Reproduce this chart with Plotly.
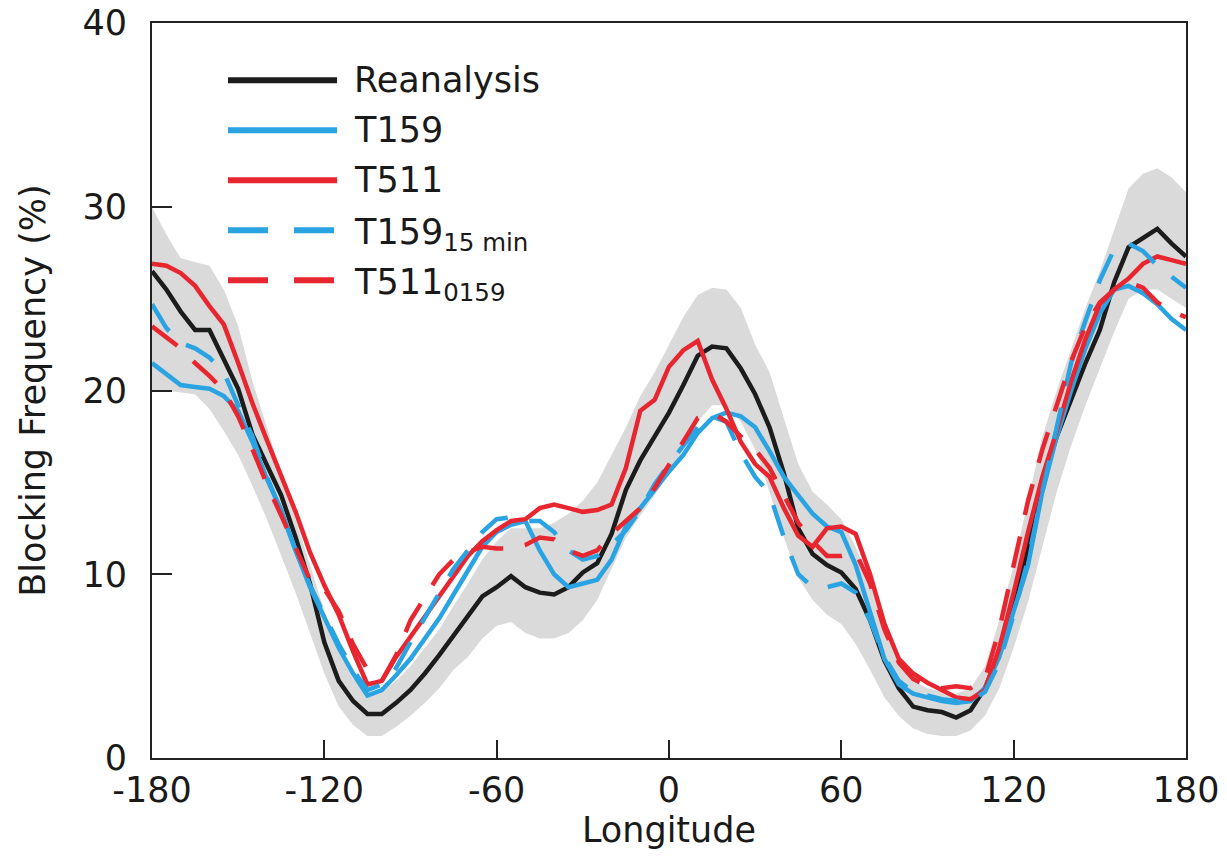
import plotly.graph_objects as go

lon = list(range(-180, 181, 5))

band_upper = [30.0, 28.5, 27.2, 27.0, 26.8, 25.5, 23.5, 20.5, 18.0, 15.5, 13.0, 10.5, 8.0, 5.8, 4.3, 3.6,
              3.6, 4.2, 5.0, 6.0, 7.0, 8.3, 9.5, 10.8, 11.8, 12.5, 12.5, 12.5, 12.8, 13.3, 14.0, 15.0,
              16.5, 18.0, 19.7, 21.0, 22.5, 24.0, 25.2, 25.6, 25.5, 24.5, 22.5, 21.0, 18.5, 16.0, 14.5, 13.8,
              13.0, 11.5, 9.5, 7.5, 5.5, 4.2, 3.8, 3.6, 3.5, 3.8, 5.0, 7.5, 10.5, 14.0, 17.5, 20.0,
              22.3, 24.5, 26.5, 28.8, 31.0, 31.8, 32.1, 31.6, 30.8]
band_lower = [20.0, 20.0, 19.9, 19.8, 19.0, 17.8, 16.5, 14.8, 13.0, 11.0, 9.0, 6.8, 4.6, 2.8, 1.8, 1.2,
              1.2, 1.7, 2.3, 3.0, 3.8, 4.8, 5.5, 6.5, 7.2, 7.4, 6.8, 6.5, 6.5, 6.8, 7.5, 8.6,
              10.3, 12.0, 13.2, 14.3, 15.5, 16.8, 18.3, 19.2, 19.2, 18.3, 16.8, 14.5, 12.0, 9.8, 8.6, 7.8,
              7.3, 6.2, 4.8, 3.3, 2.3, 1.6, 1.3, 1.2, 1.2, 1.5, 2.3, 3.8, 6.0, 8.5, 11.5, 14.5,
              17.0, 19.2, 21.2, 23.2, 25.0, 25.5, 25.5, 25.0, 24.5]

reanalysis = [26.5, 25.5, 24.3, 23.3, 23.3, 21.7, 20.1, 17.6, 16.0, 14.3, 12.0, 9.5, 6.3, 4.2, 3.1, 2.4,
              2.4, 3.0, 3.7, 4.6, 5.6, 6.7, 7.8, 8.8, 9.3, 9.9, 9.3, 9.0, 8.9, 9.3, 10.1, 10.6,
              12.2, 14.6, 16.2, 17.5, 18.8, 20.3, 21.9, 22.4, 22.3, 21.2, 19.8, 18.0, 15.5, 12.5, 11.1, 10.5,
              10.1, 9.2, 7.5, 5.3, 3.8, 2.8, 2.6, 2.5, 2.2, 2.6, 3.8, 5.7, 8.2, 11.5, 15.0, 17.5,
              19.5, 21.5, 23.3, 25.9, 27.8, 28.3, 28.8, 28.0, 27.3]

t159 = [21.5, 20.9, 20.3, 20.2, 20.1, 19.7, 18.9, 17.2, 15.2, 13.5, 11.3, 9.3, 7.6, 6.0, 4.6, 3.4,
        3.7, 4.5, 5.4, 6.5, 7.6, 8.9, 10.2, 11.5, 12.3, 12.7, 12.9, 11.3, 10.0, 9.3, 9.5, 9.7,
        10.8, 12.6, 13.6, 14.6, 15.6, 16.5, 17.7, 18.5, 18.8, 18.6, 18.0, 16.7, 15.3, 14.3, 13.3, 12.6,
        12.3, 10.5, 8.0, 5.4, 4.0, 3.5, 3.3, 3.1, 3.0, 3.1, 3.8, 5.5, 8.0, 10.5, 14.5, 17.5,
        20.0, 22.3, 24.2, 25.5, 25.7, 25.3, 24.7, 23.9, 23.3]

t511 = [26.9, 26.8, 26.4, 25.7, 24.6, 23.6, 21.5, 19.3, 17.3, 15.3, 13.4, 11.2, 9.4, 7.8, 5.8, 4.0,
        4.2, 5.5, 6.6, 7.7, 8.8, 10.0, 11.0, 11.8, 12.4, 12.9, 13.0, 13.6, 13.8, 13.6, 13.4, 13.5,
        13.8, 15.8, 18.9, 19.5, 21.3, 22.2, 22.7, 20.6, 19.0, 17.2, 16.0, 15.3, 13.6, 12.1, 11.5, 12.5,
        12.6, 12.2, 10.0, 7.3, 5.4, 4.6, 4.1, 3.7, 3.3, 3.2, 3.7, 6.0, 9.0, 12.3, 15.3, 17.8,
        20.5, 22.8, 24.7, 25.5, 26.1, 26.9, 27.3, 27.1, 26.9]

t159_15min = [24.7, 23.4, 22.6, 22.3, 21.8, 21.0, 19.2, 17.5, 15.3, 13.4, 11.3, 9.4, 7.8, 6.2, 4.8, 3.7,
              4.0, 4.9, 6.3, 7.6, 9.0, 10.3, 11.3, 12.3, 13.0, 13.1, 12.9, 12.9, 12.3, 11.3, 10.8, 11.0,
              11.6, 12.4, 13.5, 14.9, 16.0, 17.0, 18.0, 18.6, 18.3, 16.6, 15.3, 14.4, 12.0, 10.0, 9.3, 9.3,
              9.5, 9.0, 7.5, 5.5, 4.2, 3.6, 3.4, 3.2, 3.1, 3.1, 3.6, 5.2, 7.8, 10.8, 14.5, 18.0,
              21.5, 23.8, 26.0, 27.7, 28.0, 27.6, 26.8, 26.2, 25.6]

t511_0159 = [23.5, 22.9, 22.3, 21.5, 20.8, 20.0, 18.6, 16.8, 14.9, 13.2, 11.5, 9.7, 9.2, 8.0, 6.2, 4.8,
             4.2, 5.6, 7.5, 8.8, 10.0, 10.8, 11.2, 11.5, 11.4, 11.4, 11.6, 12.0, 11.9, 11.3, 11.0, 11.3,
             12.2, 12.9, 13.6, 14.7, 16.0, 17.3, 18.5, 18.8, 18.3, 17.5, 16.8, 15.8, 14.3, 12.8, 11.8, 11.0,
             11.0, 11.2, 9.5, 7.0, 5.2, 4.3, 3.9, 3.8, 3.9, 3.8, 4.3, 7.0, 10.5, 14.0, 16.8, 19.3,
             21.6, 23.5, 24.8, 25.5, 25.9, 25.6, 24.8, 24.3, 24.0]

x_tickvals = [-180, -120, -60, 0, 60, 120, 180]
x_ticktext = ["-180", "-120", "-60", "0", "60", "120", "180"]
y_tickvals = [0, 10, 20, 30, 40]
y_ticktext = ["0", "10", "20", "30", "40"]

BLACK = "#1c1c1c"
BLUE = "#2aa3e2"
RED = "#e8262f"
GREY = "#dadada"
LW = 4.5
DASH = "32px,22px"

series = [
    ("Reanalysis", reanalysis, BLACK, "solid"),
    ("T159", t159, BLUE, "solid"),
    ("T511", t511, RED, "solid"),
    ("T159<sub>15 min</sub>", t159_15min, BLUE, DASH),
    ("T511<sub>0159</sub>", t511_0159, RED, DASH),
]

fig = go.Figure()
fig.add_trace(go.Scatter(x=lon, y=band_upper, mode="lines", line=dict(width=0, color=GREY),
                         showlegend=False, hoverinfo="skip"))
fig.add_trace(go.Scatter(x=lon, y=band_lower, mode="lines", line=dict(width=0, color=GREY),
                         fill="tonexty", fillcolor=GREY, showlegend=False, hoverinfo="skip"))
for name, vals, col, dash in series:
    fig.add_trace(go.Scatter(x=lon, y=vals, mode="lines", name=name,
                             line=dict(color=col, width=LW, dash=dash), showlegend=False))

# manual legend (long line samples like the original)
FONT = "DejaVu Sans, Open Sans, sans-serif"
TXT = "#1a1a1a"
leg_y = [0.922, 0.854, 0.786, 0.718, 0.650]
for (name, vals, col, dash), yy in zip(series, leg_y):
    fig.add_shape(type="line", xref="paper", yref="paper", x0=0.0735, x1=0.179, y0=yy, y1=yy,
                  line=dict(color=col, width=6, dash=dash if dash == "solid" else "40px,26px"))
    fig.add_annotation(xref="paper", yref="paper", x=0.193, y=yy, text=name, showarrow=False,
                       xanchor="left", yanchor="middle", font=dict(family=FONT, size=35, color=TXT),
                       yshift=-4 if "sub" in name else 0)

axis_common = dict(showline=True, linecolor="#222", linewidth=2, mirror=True, ticks="inside",
                   tickcolor="#222", tickwidth=2, showgrid=False, zeroline=False,
                   ticklabeloverflow="allow", automargin=False,
                   tickfont=dict(family=FONT, size=35, color=TXT))

fig.update_layout(
    width=1227, height=861,
    margin=dict(l=152, r=41, t=23, b=103, autoexpand=False),
    paper_bgcolor="white", plot_bgcolor="white",
    showlegend=False,
    xaxis=dict(range=[-180, 180], tickvals=x_tickvals, ticktext=x_ticktext, ticklen=18,
               title=dict(text="Longitude", font=dict(family=FONT, size=35, color=TXT), standoff=0),
               **axis_common),
    yaxis=dict(range=[0, 40.01], tickvals=y_tickvals, ticktext=y_ticktext, ticklen=20, ticklabelstandoff=16,
               title=dict(text="Blocking Frequency (%)", font=dict(family=FONT, size=35, color=TXT), standoff=26),
               **axis_common),
)

fig.write_html("out.html")
